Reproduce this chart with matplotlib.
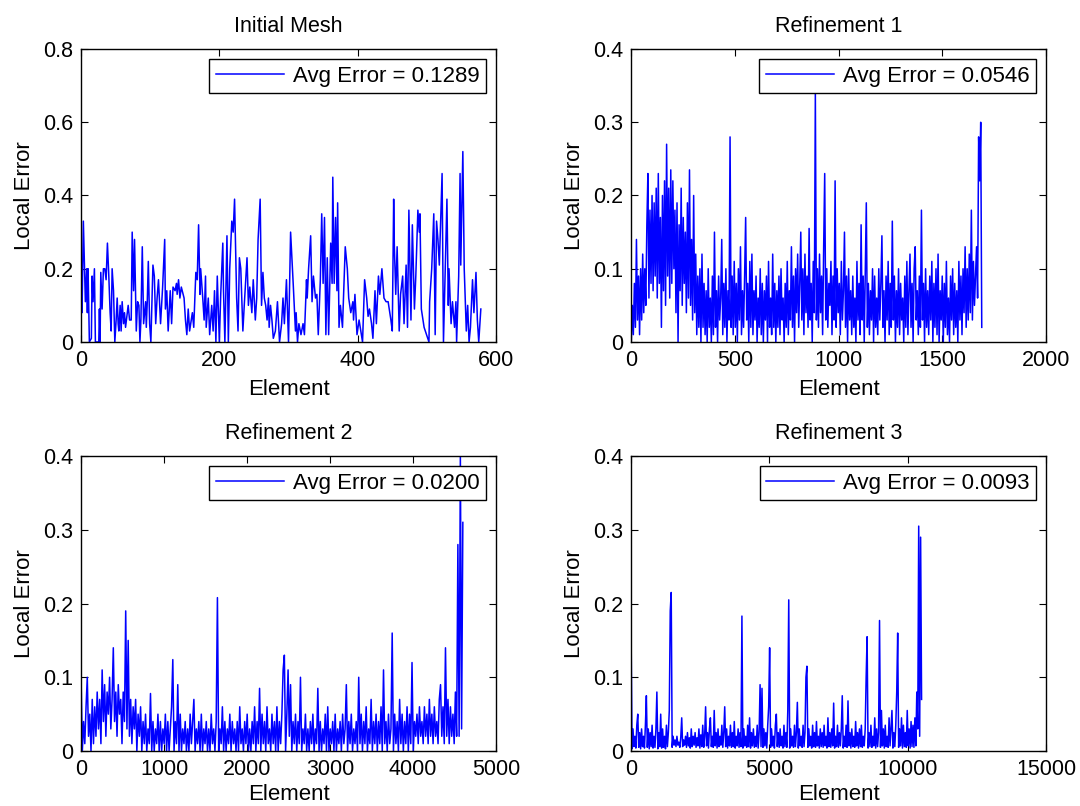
import numpy as np
import matplotlib
matplotlib.use('Agg')
import matplotlib.pyplot as plt

plt.rcParams['font.family'] = ['Liberation Sans', 'DejaVu Sans']

titles = ['Initial Mesh', 'Refinement 1', 'Refinement 2', 'Refinement 3']
avg_errors = [0.1289, 0.0546, 0.0200, 0.0093]
n_elements = [580, 1690, 4600, 10500]
x_limits = [600, 2000, 5000, 15000]
y_limits = [0.8, 0.4, 0.4, 0.4]
x_ticks = [[0, 200, 400, 600], [0, 500, 1000, 1500, 2000],
           [0, 1000, 2000, 3000, 4000, 5000], [0, 5000, 10000, 15000]]
y_ticks = [[0, 0.2, 0.4, 0.6, 0.8], [0, 0.1, 0.2, 0.3, 0.4],
           [0, 0.1, 0.2, 0.3, 0.4], [0, 0.1, 0.2, 0.3, 0.4]]

# Initial mesh: element numbers and local errors
elem0 = [0,1.5,3.4,6.3,8.2,9.2,10.2,12.1,15,16,
         17.4,19.4,20.8,25.7,26.6,27.6,28.6,30.5,32.4,34.4,
         36.3,38.2,40.2,42.1,43.6,45,47,48.9,50.8,52.3,
         53.7,54.7,56.6,58,59.5,61.5,62.9,64.4,68.2,70.2,
         72.6,74,76,77.4,79.9,81.8,83.7,85.2,86.6,88.6,
         90.5,93.4,94.4,95.8,97.3,99.2,101,104,106,108,
         110,112,115,118,121,122,124,126,129,131,
         133,136,138,139,141,143,145,149,151,153,
         155,157,161,163,166,168,170,172,173,176,
         178,180,181,184,186,189,191,193,195,197,
         200,202,205,206,208,211,213,215,218,220,
         222,225,227,229,231,234,236,240,242,244,
         247,249,252,254,256,259,261,263,265,267,
         269,271,272,274,276,278,281,284,287,290,
         292,294,297,300,303,307,310,311,313,315,
         318,321,323,326,327,329,332,334,336,339,
         341,343,346,348,350,352,354,356,358,361,
         363,364,366,368,370,371,373,375,378,382,
         385,387,390,393,394,396,399,402,407,410,
         413,415,417,420,422,425,427,430,432,435,
         438,441,444,448,450,452,453,455,457,460,
         462,465,467,470,472,474,477,479,482,484,
         487,489,490,492,496,503,504,507,510,512,
         514,516,518,522,524,529,531,532,535,537,
         540,542,543,546,548,549,552,554,557,559,
         561,563,566,568,571,573,575,578]
err0 = [0.15,0.08,0.33,0.11,0.20,0.08,0.20,0.0,0.01,0.18,
        0.11,0.20,0.0,0.0,0.09,0.0,0.19,0.09,0.20,0.20,
        0.17,0.27,0.18,0.08,0.03,0.20,0.14,0.0,0.06,0.12,
        0.05,0.03,0.10,0.03,0.11,0.05,0.08,0.04,0.10,0.06,
        0.06,0.30,0.14,0.28,0.03,0.11,0.10,0.0,0.06,0.26,
        0.05,0.11,0.04,0.11,0.22,0.05,0.0,0.21,0.18,0.05,
        0.12,0.17,0.05,0.15,0.28,0.09,0.14,0.03,0.14,0.05,
        0.15,0.14,0.16,0.13,0.17,0.12,0.15,0.12,0.06,0.02,
        0.09,0.03,0.08,0.04,0.19,0.17,0.32,0.13,0.20,0.12,
        0.06,0.18,0.04,0.12,0.02,0.10,0.03,0.14,0.0,0.18,
        0.0,0.13,0.27,0.14,0.0,0.29,0.0,0.20,0.33,0.30,
        0.39,0.12,0.03,0.23,0.20,0.03,0.10,0.23,0.10,0.15,
        0.08,0.17,0.06,0.12,0.28,0.39,0.10,0.19,0.12,0.10,
        0.06,0.12,0.04,0.10,0.06,0.01,0.03,0.11,0.0,0.05,
        0.12,0.05,0.17,0.0,0.30,0.15,0.03,0.08,0.0,0.05,
        0.02,0.05,0.02,0.17,0.12,0.20,0.29,0.11,0.18,0.12,
        0.13,0.02,0.17,0.35,0.16,0.34,0.02,0.23,0.02,0.27,
        0.16,0.45,0.16,0.34,0.14,0.38,0.04,0.10,0.04,0.26,
        0.20,0.12,0.08,0.11,0.06,0.13,0.02,0.06,0.0,0.17,
        0.12,0.07,0.09,0.05,0.01,0.14,0.05,0.18,0.13,0.20,
        0.12,0.11,0.11,0.06,0.03,0.39,0.26,0.13,0.26,0.03,
        0.13,0.18,0.05,0.21,0.04,0.36,0.06,0.32,0.09,0.18,
        0.36,0.30,0.35,0.09,0.04,0.0,0.11,0.20,0.35,0.02,
        0.33,0.28,0.21,0.46,0.0,0.39,0.10,0.20,0.05,0.11,
        0.04,0.11,0.0,0.18,0.46,0.21,0.52,0.20,0.03,0.10,
        0.0,0.04,0.17,0.08,0.19,0.06,0.0,0.09]

# Refinement 1: local errors along the elements
err1 = [0.0,0.05,0.01,0.08,0.02,0.14,0.03,0.09,0.01,0.10,0.03,0.12,0.04,0.10,0.05,0.16,0.23,0.06,0.18,0.08,
        0.20,0.07,0.19,0.09,0.21,0.06,0.23,0.08,0.17,0.02,0.20,0.07,0.22,0.05,0.27,0.09,0.21,0.06,0.235,0.08,
        0.22,0.10,0.18,0.04,0.19,0.0,0.16,0.07,0.21,0.05,0.17,0.08,0.15,0.04,0.19,0.06,0.235,0.05,0.14,0.03,
        0.20,0.04,0.12,0.01,0.09,0.02,0.10,0.0,0.12,0.02,0.08,0.01,0.07,0.0,0.10,0.02,0.06,0.0,0.09,0.01,
        0.15,0.02,0.07,0.0,0.09,0.03,0.06,0.14,0.01,0.08,0.02,0.10,0.0,0.07,0.03,0.28,0.02,0.09,0.01,0.11,
        0.02,0.08,0.0,0.10,0.03,0.13,0.01,0.07,0.02,0.09,0.17,0.03,0.08,0.0,0.11,0.02,0.12,0.01,0.07,0.03,
        0.09,0.0,0.06,0.02,0.10,0.01,0.08,0.0,0.07,0.03,0.09,0.0,0.11,0.02,0.06,0.01,0.12,0.02,0.08,0.0,
        0.07,0.02,0.09,0.01,0.10,0.03,0.06,0.0,0.08,0.02,0.11,0.01,0.07,0.03,0.13,0.02,0.09,0.0,0.10,0.04,
        0.12,0.02,0.08,0.15,0.03,0.10,0.01,0.12,0.04,0.09,0.02,0.155,0.03,0.08,0.0,0.11,0.04,0.34,0.03,0.10,
        0.02,0.12,0.04,0.09,0.01,0.13,0.23,0.03,0.10,0.02,0.08,0.05,0.11,0.01,0.09,0.03,0.22,0.02,0.10,0.04,
        0.08,0.01,0.11,0.03,0.07,0.15,0.02,0.09,0.0,0.10,0.03,0.07,0.01,0.09,0.02,0.06,0.0,0.11,0.03,0.08,
        0.01,0.16,0.03,0.09,0.0,0.10,0.19,0.02,0.08,0.01,0.07,0.03,0.10,0.0,0.09,0.02,0.06,0.01,0.10,0.03,
        0.08,0.145,0.02,0.07,0.0,0.09,0.03,0.11,0.01,0.08,0.02,0.165,0.03,0.09,0.0,0.07,0.02,0.10,0.01,0.08,
        0.03,0.06,0.0,0.09,0.02,0.11,0.01,0.07,0.12,0.02,0.08,0.0,0.10,0.13,0.03,0.07,0.01,0.09,0.02,0.18,
        0.03,0.08,0.0,0.10,0.02,0.07,0.01,0.09,0.03,0.11,0.0,0.08,0.02,0.10,0.01,0.12,0.0,0.07,0.03,0.09,
        0.0,0.08,0.02,0.11,0.01,0.06,0.0,0.09,0.03,0.10,0.01,0.08,0.02,0.07,0.0,0.11,0.03,0.09,0.01,0.10,
        0.04,0.13,0.02,0.10,0.03,0.12,0.04,0.18,0.03,0.11,0.05,0.09,0.13,0.06,0.28,0.22,0.30,0.02]

# Refinement 2
err2 = [0.10,0.0,0.04,0.01,0.06,0.10,0.02,0.05,0.0,0.07,0.01,0.06,0.02,0.08,0.03,0.07,0.01,0.11,0.04,0.09,
        0.02,0.08,0.05,0.10,0.03,0.07,0.14,0.04,0.08,0.02,0.09,0.05,0.07,0.01,0.08,0.04,0.19,0.03,0.15,0.02,
        0.07,0.01,0.06,0.03,0.07,0.0,0.05,0.02,0.06,0.0,0.04,0.01,0.05,0.0,0.03,0.01,0.078,0.0,0.04,0.0,
        0.03,0.01,0.05,0.0,0.04,0.0,0.03,0.01,0.05,0.0,0.04,0.0,0.03,0.06,0.124,0.0,0.04,0.01,0.09,0.0,
        0.05,0.0,0.03,0.01,0.04,0.0,0.03,0.0,0.05,0.01,0.04,0.07,0.0,0.03,0.01,0.04,0.0,0.05,0.0,0.03,
        0.01,0.04,0.0,0.03,0.0,0.05,0.01,0.03,0.0,0.04,0.208,0.0,0.03,0.01,0.06,0.0,0.04,0.0,0.03,0.01,
        0.05,0.0,0.04,0.01,0.03,0.0,0.04,0.0,0.06,0.01,0.03,0.0,0.04,0.01,0.05,0.0,0.03,0.0,0.04,0.01,
        0.06,0.0,0.04,0.01,0.085,0.0,0.05,0.01,0.04,0.0,0.06,0.01,0.03,0.0,0.05,0.01,0.04,0.0,0.06,0.0,
        0.04,0.01,0.05,0.11,0.13,0.0,0.05,0.11,0.02,0.09,0.0,0.04,0.01,0.05,0.0,0.04,0.01,0.10,0.0,0.03,
        0.01,0.05,0.0,0.03,0.0,0.04,0.01,0.05,0.0,0.03,0.01,0.085,0.0,0.04,0.0,0.03,0.01,0.05,0.0,0.06,
        0.0,0.03,0.01,0.04,0.0,0.05,0.0,0.03,0.01,0.04,0.0,0.05,0.01,0.03,0.09,0.0,0.04,0.01,0.05,0.0,
        0.03,0.01,0.04,0.0,0.10,0.01,0.05,0.0,0.04,0.01,0.06,0.0,0.03,0.01,0.07,0.0,0.04,0.01,0.05,0.0,
        0.04,0.01,0.06,0.0,0.11,0.01,0.04,0.0,0.05,0.01,0.03,0.16,0.0,0.05,0.01,0.04,0.0,0.07,0.01,0.05,
        0.0,0.04,0.01,0.06,0.0,0.05,0.01,0.12,0.0,0.04,0.02,0.05,0.01,0.06,0.02,0.04,0.01,0.06,0.02,0.05,
        0.01,0.07,0.02,0.05,0.01,0.06,0.02,0.04,0.01,0.07,0.09,0.02,0.06,0.01,0.14,0.02,0.07,0.01,0.06,0.02,
        0.05,0.01,0.08,0.02,0.28,0.02,0.40,0.03,0.31]

# Refinement 3
err3 = [0.16,0.003,0.03,0.006,0.02,0.004,0.035,0.05,0.005,0.025,0.003,0.03,0.006,0.02,0.004,0.035,0.075,0.005,0.03,0.003,
        0.025,0.006,0.035,0.004,0.02,0.005,0.03,0.08,0.003,0.025,0.006,0.05,0.004,0.03,0.005,0.02,0.003,0.035,0.006,0.025,
        0.055,0.19,0.215,0.005,0.02,0.008,0.015,0.006,0.02,0.008,0.012,0.005,0.018,0.045,0.006,0.015,0.008,0.02,0.005,0.025,
        0.007,0.018,0.004,0.03,0.006,0.02,0.008,0.025,0.005,0.018,0.007,0.03,0.004,0.022,0.006,0.035,0.005,0.02,0.06,0.007,
        0.025,0.004,0.03,0.045,0.006,0.02,0.005,0.055,0.007,0.025,0.004,0.03,0.006,0.02,0.008,0.035,0.005,0.025,0.06,0.006,
        0.03,0.004,0.02,0.007,0.035,0.005,0.025,0.006,0.04,0.004,0.02,0.007,0.03,0.005,0.025,0.006,0.183,0.004,0.03,0.007,
        0.02,0.005,0.035,0.006,0.045,0.004,0.025,0.007,0.03,0.005,0.02,0.006,0.035,0.004,0.025,0.09,0.006,0.085,0.005,0.03,
        0.007,0.025,0.004,0.035,0.06,0.14,0.005,0.03,0.007,0.02,0.004,0.035,0.05,0.006,0.025,0.005,0.03,0.007,0.02,0.004,
        0.035,0.006,0.025,0.005,0.055,0.205,0.004,0.03,0.007,0.02,0.005,0.035,0.006,0.025,0.066,0.004,0.03,0.007,0.02,0.005,
        0.035,0.006,0.025,0.10,0.115,0.005,0.03,0.007,0.02,0.004,0.035,0.006,0.025,0.005,0.04,0.007,0.02,0.004,0.03,0.006,
        0.025,0.005,0.035,0.007,0.02,0.004,0.045,0.006,0.025,0.005,0.03,0.007,0.065,0.004,0.02,0.006,0.035,0.005,0.025,0.007,
        0.03,0.075,0.004,0.02,0.006,0.035,0.005,0.068,0.007,0.025,0.004,0.03,0.006,0.02,0.005,0.04,0.007,0.025,0.004,0.03,
        0.006,0.035,0.005,0.02,0.007,0.03,0.10,0.155,0.004,0.025,0.006,0.035,0.005,0.02,0.007,0.045,0.004,0.03,0.006,0.025,
        0.177,0.005,0.055,0.007,0.03,0.004,0.035,0.006,0.02,0.005,0.045,0.007,0.03,0.055,0.004,0.025,0.006,0.035,0.08,0.16,
        0.005,0.03,0.007,0.045,0.004,0.035,0.006,0.025,0.005,0.055,0.007,0.03,0.004,0.04,0.006,0.035,0.005,0.045,0.007,0.08,
        0.03,0.305,0.02,0.29,0.07]

series_err = [err0, err1, err2, err3]

fig = plt.figure(figsize=(10.8, 8.06), dpi=100)
positions = [[0.075, 0.5757, 0.3843, 0.3635],
             [0.5843, 0.5757, 0.3843, 0.3635],
             [0.075, 0.0682, 0.3843, 0.366],
             [0.5843, 0.0682, 0.3843, 0.366]]

FS = 16
for k in range(4):
    ax = fig.add_axes(positions[k])
    if k == 0:
        xs = np.array(elem0)
    else:
        xs = np.linspace(1, n_elements[k], len(series_err[k]))
    ax.plot(xs, series_err[k], color=(0, 0, 1), lw=1.1,
            label='Avg Error = %.4f' % avg_errors[k])
    ax.set_xlim(0, x_limits[k])
    ax.set_ylim(0, y_limits[k])
    ax.set_xticks(x_ticks[k])
    ax.set_yticks(y_ticks[k])
    ax.set_xticklabels(['%g' % t for t in x_ticks[k]])
    ax.set_yticklabels(['%g' % t for t in y_ticks[k]])
    ax.tick_params(direction='in', top=True, right=True, length=5, width=0.8,
                   labelsize=15.5, pad=5.5)
    for s in ax.spines.values():
        s.set_linewidth(1.0)
    ax.set_title(titles[k], fontsize=15.5, pad=12)
    ax.set_xlabel('Element', fontsize=FS, labelpad=6 if k < 2 else 3)
    ax.set_ylabel('Local Error', fontsize=FS, labelpad=6)
    leg = ax.legend(loc='upper right', fontsize=FS, fancybox=False,
                    edgecolor='black', framealpha=1, handlelength=3.05,
                    handletextpad=0.4, borderpad=0.3, borderaxespad=0.45)
    leg.get_frame().set_linewidth(1.0)

fig.savefig('out.png', dpi=100)
